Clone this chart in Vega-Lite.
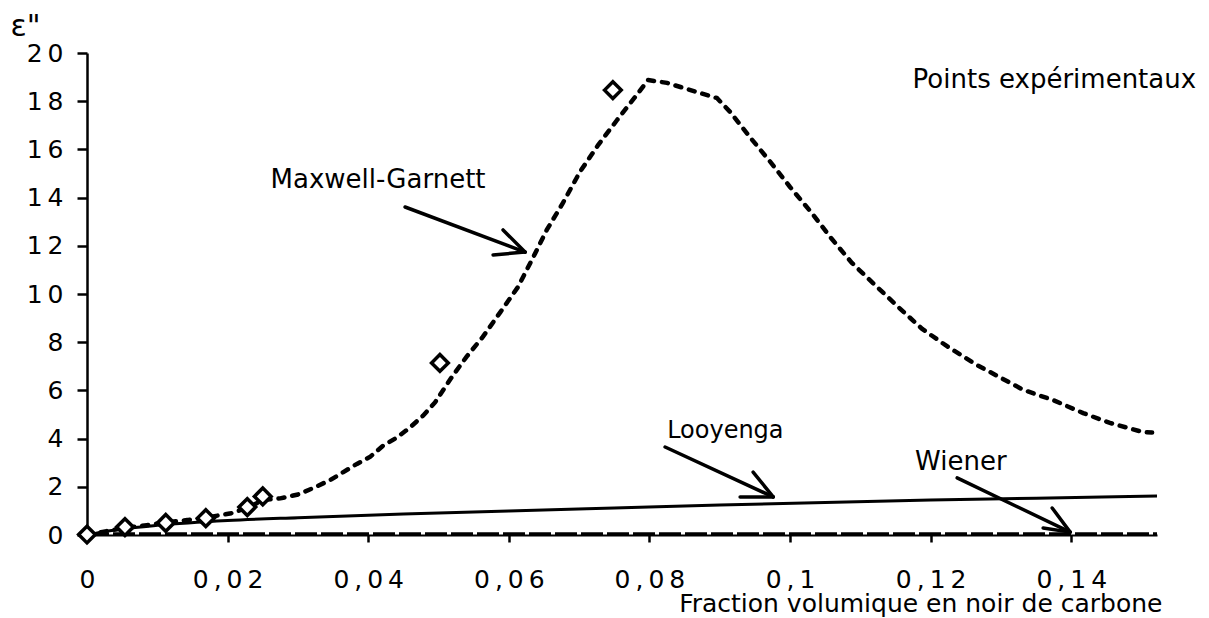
{
  "$schema": "https://vega.github.io/schema/vega-lite/v6.json",
  "width": 1070,
  "height": 482,
  "autosize": {"type": "none"},
  "padding": {"left": 87, "top": 53, "right": 52, "bottom": 83},
  "background": "white",
  "config": {"font": "DejaVu Sans", "view": {"stroke": null}},
  "datasets": {
    "mg": [
      {"x": 0, "y": 0}, {"x": 0.002, "y": 0.12}, {"x": 0.005, "y": 0.28}, {"x": 0.0085, "y": 0.41},
      {"x": 0.0115, "y": 0.53}, {"x": 0.0145, "y": 0.63}, {"x": 0.0175, "y": 0.75}, {"x": 0.0205, "y": 0.9},
      {"x": 0.023, "y": 1.15}, {"x": 0.025, "y": 1.45}, {"x": 0.0275, "y": 1.52}, {"x": 0.03, "y": 1.68},
      {"x": 0.0322, "y": 1.95}, {"x": 0.0346, "y": 2.28}, {"x": 0.0364, "y": 2.6}, {"x": 0.0384, "y": 2.95},
      {"x": 0.0403, "y": 3.25}, {"x": 0.0421, "y": 3.7}, {"x": 0.0441, "y": 4.05}, {"x": 0.0459, "y": 4.45},
      {"x": 0.0478, "y": 4.95}, {"x": 0.0495, "y": 5.5}, {"x": 0.052, "y": 6.6}, {"x": 0.054, "y": 7.4},
      {"x": 0.0563, "y": 8.22}, {"x": 0.0588, "y": 9.25}, {"x": 0.0613, "y": 10.29}, {"x": 0.0635, "y": 11.54},
      {"x": 0.0654, "y": 12.66}, {"x": 0.0677, "y": 13.78}, {"x": 0.0701, "y": 15.06}, {"x": 0.0727, "y": 16.18},
      {"x": 0.0754, "y": 17.22}, {"x": 0.0782, "y": 18.26}, {"x": 0.0798, "y": 18.88}, {"x": 0.0825, "y": 18.76},
      {"x": 0.0872, "y": 18.34}, {"x": 0.0896, "y": 18.13}, {"x": 0.0915, "y": 17.55}, {"x": 0.0943, "y": 16.51},
      {"x": 0.0972, "y": 15.48}, {"x": 0.1, "y": 14.44}, {"x": 0.1031, "y": 13.36}, {"x": 0.1057, "y": 12.37},
      {"x": 0.1088, "y": 11.29}, {"x": 0.1121, "y": 10.37}, {"x": 0.1154, "y": 9.46}, {"x": 0.1188, "y": 8.55},
      {"x": 0.1225, "y": 7.8}, {"x": 0.1266, "y": 7.05}, {"x": 0.1332, "y": 6.02}, {"x": 0.1374, "y": 5.6},
      {"x": 0.1417, "y": 5.06}, {"x": 0.1455, "y": 4.65}, {"x": 0.1502, "y": 4.27}, {"x": 0.1515, "y": 4.25}
    ],
    "looyenga": [
      {"x": 0, "y": 0}, {"x": 0.002, "y": 0.12}, {"x": 0.005, "y": 0.25}, {"x": 0.01, "y": 0.4},
      {"x": 0.02, "y": 0.6}, {"x": 0.03, "y": 0.72}, {"x": 0.045, "y": 0.87}, {"x": 0.06, "y": 1.0},
      {"x": 0.075, "y": 1.12}, {"x": 0.09, "y": 1.24}, {"x": 0.105, "y": 1.35}, {"x": 0.12, "y": 1.45},
      {"x": 0.135, "y": 1.53}, {"x": 0.1522, "y": 1.62}
    ],
    "wiener": [
      {"x": 0, "y": 0.04}, {"x": 0.1522, "y": 0.04}
    ],
    "points": [
      {"x": 0, "y": 0.02}, {"x": 0.0054, "y": 0.33}, {"x": 0.0112, "y": 0.5}, {"x": 0.0169, "y": 0.7},
      {"x": 0.0228, "y": 1.16}, {"x": 0.025, "y": 1.6}, {"x": 0.0502, "y": 7.14}, {"x": 0.0748, "y": 18.46}
    ],
    "arrows": [
      {"x": 0.04524, "y": 13.61, "x2": 0.06231, "y2": 11.74},
      {"x": 0.05776, "y": 11.62, "x2": 0.06231, "y2": 11.74},
      {"x": 0.05918, "y": 12.66, "x2": 0.06231, "y2": 11.74},
      {"x": 0.08223, "y": 3.65, "x2": 0.0976, "y2": 1.58},
      {"x": 0.0929, "y": 1.58, "x2": 0.0976, "y2": 1.58},
      {"x": 0.09475, "y": 2.61, "x2": 0.0976, "y2": 1.58},
      {"x": 0.12377, "y": 2.37, "x2": 0.13985, "y2": 0.12},
      {"x": 0.13729, "y": 1.12, "x2": 0.13985, "y2": 0.12},
      {"x": 0.136, "y": 0.29, "x2": 0.13985, "y2": 0.12}
    ],
    "labels": [
      {"x": 0.0414, "y": 14.73, "text": "Maxwell-Garnett", "size": 26},
      {"x": 0.0908, "y": 4.32, "text": "Looyenga", "size": 24},
      {"x": 0.1243, "y": 3.03, "text": "Wiener", "size": 26},
      {"x": 0.1376, "y": 18.88, "text": "Points expérimentaux", "size": 26}
    ]
  },
  "encoding": {
    "x": {
      "field": "x", "type": "quantitative",
      "scale": {"domain": [0, 0.1522], "nice": false, "zero": false},
      "axis": {
        "values": [0, 0.02, 0.04, 0.06, 0.08, 0.1, 0.12, 0.14],
        "labelExpr": "join(split(replace(format(datum.value, '~g'), '.', ','), ''), '\u2009')",
        "labelFontSize": 25, "labelColor": "black", "labelPadding": 25,
        "labelFlush": false, "labelOverlap": false,
        "tickSize": 7, "tickWidth": 2.5, "tickColor": "black",
        "domainColor": "black", "domainWidth": 2,
        "grid": false,
        "title": "Fraction volumique en noir de carbone",
        "titleFontSize": 25, "titleFontWeight": "normal", "titleColor": "black",
        "titleAlign": "right", "titleAnchor": "end", "titleX": 1075, "titleY": 76,
        "titleBaseline": "alphabetic"
      }
    },
    "y": {
      "field": "y", "type": "quantitative",
      "scale": {"domain": [0, 20], "nice": false, "zero": false},
      "axis": {
        "values": [0, 2, 4, 6, 8, 10, 12, 14, 16, 18, 20],
        "labelExpr": "join(split(datum.label, ''), '\u2009')",
        "labelFontSize": 25, "labelColor": "black", "labelPadding": 14,
        "labelFlush": false, "labelOverlap": false,
        "tickSize": 10, "tickWidth": 2.5, "tickColor": "black",
        "domainColor": "black", "domainWidth": 2.5,
        "grid": false,
        "title": "ε\"",
        "titleFontSize": 30, "titleFontWeight": "normal", "titleColor": "black",
        "titleAngle": 0, "titleAlign": "center", "titleBaseline": "alphabetic",
        "titleX": -62, "titleY": -18
      }
    }
  },
  "layer": [
    {
      "data": {"name": "wiener"},
      "mark": {"type": "line", "color": "black", "strokeWidth": 3.5, "strokeDash": [22, 4]}
    },
    {
      "data": {"name": "looyenga"},
      "mark": {"type": "line", "color": "black", "strokeWidth": 3, "interpolate": "monotone"}
    },
    {
      "data": {"name": "mg"},
      "mark": {"type": "line", "color": "black", "strokeWidth": 4.5, "strokeDash": [6, 8], "strokeCap": "round"}
    },
    {
      "data": {"name": "points"},
      "mark": {"type": "point", "shape": "diamond", "size": 280, "filled": true, "fill": "white", "stroke": "black", "strokeWidth": 3.5, "opacity": 1}
    },
    {
      "data": {"name": "arrows"},
      "mark": {"type": "rule", "color": "black", "strokeWidth": 3.5, "strokeCap": "round"},
      "encoding": {
        "x2": {"field": "x2"},
        "y2": {"field": "y2"}
      }
    },
    {
      "data": {"name": "labels"},
      "mark": {"type": "text", "color": "black", "align": "center", "baseline": "middle"},
      "encoding": {
        "text": {"field": "text"},
        "size": {"field": "size", "type": "quantitative", "scale": null}
      }
    }
  ]
}
